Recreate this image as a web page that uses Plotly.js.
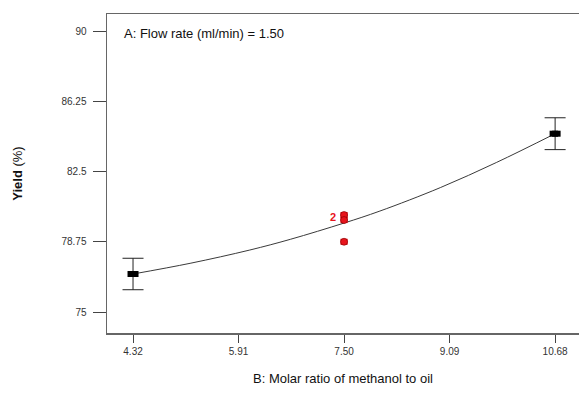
<!DOCTYPE html>
<html>
<head>
<meta charset="utf-8">
<script src="https://cdn.plot.ly/plotly-3.0.1.min.js"></script>
<style>html,body{margin:0;padding:0;background:#fff;overflow:hidden}</style>
</head>
<body>
<div id="chart" style="width:579px;height:397px"></div>
<script>
// Tick values / labels
const xTickVals = [4.32, 5.91, 7.50, 9.09, 10.68];
const xTickText = ["4.32", "5.91", "7.50", "9.09", "10.68"];
const yTickVals = [75, 78.75, 82.5, 86.25, 90];
const yTickText = ["75", "78.75", "82.5", "86.25", "90"];

// Model prediction curve
const curveX = [4.32, 5.18, 6.08, 6.69, 7.50, 8.04, 8.95, 9.80, 10.68];
const curveY = [77.03, 77.60, 78.31, 78.88, 79.75, 80.39, 81.64, 82.99, 84.52];

// Predicted points with confidence bars at the factor extremes
const predX = [4.32, 10.68];
const predY = [77.03, 84.52];
const predErr = [0.84, 0.85];

// Design (actual) points
const designX = [7.50, 7.50, 7.50];
const designY = [80.18, 79.91, 78.75];

// Replicate count label
const repX = 7.50;
const repY = 80.05;
const repText = "2";

const xPxPerUnit = 472 / (11.04 - 3.928);

const traces = [
  {
    x: curveX, y: curveY, type: 'scatter', mode: 'lines',
    line: {color: '#3a3a3a', width: 1, shape: 'spline'},
    hoverinfo: 'skip', showlegend: false
  },
  {
    x: predX, y: predY, type: 'scatter', mode: 'markers',
    marker: {symbol: 'square', size: 6, color: '#000'},
    error_y: {type: 'data', array: predErr, visible: true, color: '#222', thickness: 1, width: 10.5},
    error_x: {type: 'constant', value: 5.5 / xPxPerUnit, visible: true, color: '#000', thickness: 6, width: 0},
    showlegend: false
  },
  {
    x: designX, y: designY, type: 'scatter', mode: 'markers',
    marker: {symbol: 'circle', size: 7, color: '#e8141c', line: {color: '#7a0000', width: 0.6}},
    error_x: {type: 'constant', value: 3.6 / xPxPerUnit, visible: true, color: '#e8141c', thickness: 6, width: 0},
    showlegend: false
  }
];

const layout = {
  width: 579, height: 397,
  margin: {l: 107, r: 0, t: 14, b: 64},
  paper_bgcolor: '#fff', plot_bgcolor: '#fff',
  font: {family: 'Liberation Sans, Arial, sans-serif', color: '#333'},
  showlegend: false,
  xaxis: {
    range: [3.928, 11.04],
    tickvals: xTickVals, ticktext: xTickText,
    ticks: 'outside', ticklen: 8, tickcolor: '#444', tickwidth: 1,
    showgrid: false, zeroline: false,
    showline: true, linecolor: '#666', linewidth: 1.5, mirror: true,
    tickfont: {size: 10, color: '#333'},
    title: {text: 'B: Molar ratio of methanol to oil', font: {size: 13, color: '#111'}, standoff: 18}
  },
  yaxis: {
    range: [73.88, 90.91],
    tickvals: yTickVals, ticktext: yTickText,
    ticks: 'outside', ticklen: 13, tickcolor: '#444', tickwidth: 1,
    ticklabelstandoff: 4,
    showgrid: false, zeroline: false,
    showline: true, linecolor: '#666', linewidth: 1.5,
    tickfont: {size: 10, color: '#333'},
    title: {text: '<b>Yield</b> (%)', font: {size: 13, color: '#111'}, standoff: 36}
  },
  annotations: [
    {
      xref: 'paper', yref: 'paper', x: 0.032, y: 0.94, xanchor: 'left', yanchor: 'middle',
      text: 'A: Flow rate (ml/min) = 1.50', showarrow: false,
      font: {size: 13, color: '#111'}
    },
    {
      xref: 'x', yref: 'y', x: repX, y: repY, xanchor: 'right', yanchor: 'middle',
      xshift: -6, text: '<b>' + repText + '</b>', showarrow: false,
      font: {size: 11, color: '#e8141c'}
    }
  ]
};

Plotly.newPlot('chart', traces, layout, {displayModeBar: false, staticPlot: true});
</script>
</body>
</html>
